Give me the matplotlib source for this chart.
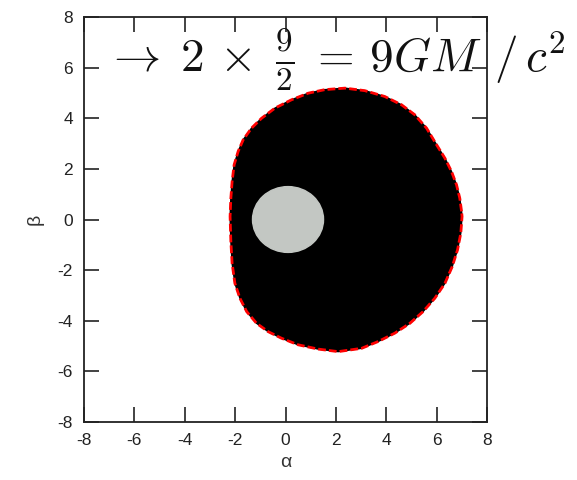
import numpy as np
import matplotlib
matplotlib.use('Agg')
import matplotlib.pyplot as plt
from matplotlib.patches import Ellipse

plt.rcParams['font.family'] = ['Liberation Sans', 'DejaVu Sans']
plt.rcParams['mathtext.fontset'] = 'cm'
plt.rcParams['axes.unicode_minus'] = False

# shadow rim (alpha, beta), counter-clockwise starting at the right-hand edge
rim_alpha = [6.99, 6.92, 6.79, 6.59, 6.33, 6.00, 5.60, 5.13, 4.61, 3.94,
             3.15, 2.36, 1.56, 0.90, 0.24, -0.42, -0.95, -1.35, -1.68, -1.88,
             -2.04, -2.12, -2.17, -2.20, -2.17, -2.12, -2.01, -1.81, -1.54,
             -1.15, -0.69, -0.16, 0.50, 1.30, 2.09, 3.02, 3.68, 4.34, 4.94,
             5.46, 5.93, 6.33, 6.62, 6.83, 6.96, 7.01]
rim_beta = [0.32, 0.84, 1.37, 1.90, 2.42, 2.95, 3.61, 4.14, 4.53, 4.86,
            5.09, 5.19, 5.13, 4.99, 4.73, 4.40, 4.00, 3.61, 3.15, 2.69,
            2.16, 1.50, 0.84, 0.12, -0.86, -1.73, -2.52, -3.11, -3.64,
            -4.10, -4.43, -4.69, -4.95, -5.12, -5.22, -5.09, -4.82, -4.49,
            -4.10, -3.64, -3.11, -2.52, -1.86, -1.20, -0.54, 0.12]

# horizon disc
disc_center = (0.1, 0.0)
disc_w, disc_h = 2.82, 2.6

ticks = [-8, -6, -4, -2, 0, 2, 4, 6, 8]

fig = plt.figure(figsize=(5.77, 4.80), dpi=100)
ax = fig.add_axes([84/577, 1-422/480, 403/577, 405/480])

a = np.array(rim_alpha + rim_alpha[:1])
b = np.array(rim_beta + rim_beta[:1])
ax.fill(a, b, color='black', zorder=2)
ax.plot(a, b, color='red', lw=2.0, ls=(0, (2.8, 1.1)), zorder=3)
ax.add_patch(Ellipse(disc_center, disc_w, disc_h, color='#c3c7c3', zorder=4))

ax.set_xlim(-8, 8)
ax.set_ylim(-8, 8)
ax.set_xticks(ticks)
ax.set_yticks(ticks)
ax.tick_params(direction='in', length=11, width=1.2, top=True, right=True,
               labelsize=12.5, pad=8, colors='#222222')
for s in ax.spines.values():
    s.set_linewidth(1.3)
    s.set_color('#222222')
ax.set_xlabel('α', fontsize=14, labelpad=4, color='#333333')
ax.set_ylabel('β', fontsize=14, labelpad=10, color='#333333')

fig.text(105/577, 1-72/480,
         r'$\rightarrow\;2\,\times\;\frac{9}{2}\;=\,9GM\;\,/\,c^2$',
         fontsize=34, va='baseline', ha='left', color='#111111')

fig.savefig('out.png', dpi=100)
